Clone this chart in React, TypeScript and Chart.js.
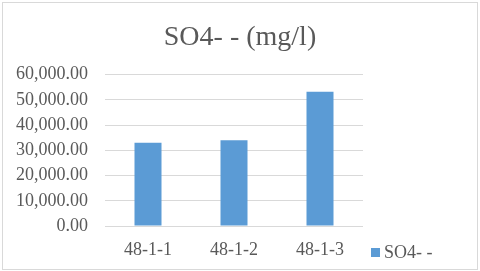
import { useEffect, useRef } from "react";
import { Chart, registerables } from "chart.js";

Chart.register(...registerables);

const chartTitle = "SO4- - (mg/l)";
const categories = ["48-1-1", "48-1-2", "48-1-3"];
const seriesName = "SO4- -";
const seriesValues = [33000, 34000, 53200];
const yMin = 0;
const yMax = 60000;
const yStep = 10000;

const BAR = "#5b9bd5";
const TEXT = "#595959";
const GRID = "#d9d9d9";
const FONT = "'Liberation Serif', 'Times New Roman', serif";

const framePlugin = {
  id: "frame",
  beforeDraw(chart: any) {
    const ctx = chart.ctx;
    ctx.save();
    ctx.fillStyle = "#ffffff";
    ctx.fillRect(0, 0, chart.width, chart.height);
    ctx.strokeStyle = GRID;
    ctx.lineWidth = 1;
    ctx.strokeRect(2.5, 2.5, chart.width - 5, chart.height - 4);
    ctx.restore();
  },
  afterDraw(chart: any) {
    const ctx = chart.ctx;
    const area = chart.chartArea;
    ctx.save();
    ctx.fillStyle = BAR;
    const x = area.right + 8;
    ctx.fillRect(x, 248, 9, 9);
    ctx.fillStyle = TEXT;
    ctx.font = `18px ${FONT}`;
    ctx.textBaseline = "middle";
    ctx.textAlign = "left";
    ctx.fillText(chart.data.datasets[0].label, x + 13, 253);
    ctx.restore();
  },
};

export default function App() {
  const ref = useRef<HTMLCanvasElement | null>(null);
  useEffect(() => {
    document.body.style.margin = "0";
    if (!ref.current) return;
    const chart = new Chart(ref.current, {
      type: "bar",
      data: {
        labels: categories,
        datasets: [
          {
            label: seriesName,
            data: seriesValues,
            backgroundColor: BAR,
            barPercentage: 0.314,
            categoryPercentage: 1,
          },
        ],
      },
      options: {
        responsive: false,
        animation: false,
        devicePixelRatio: 1,
        layout: { padding: 0 },
        plugins: {
          legend: { display: false },
          tooltip: { enabled: false },
          title: {
            display: true,
            text: chartTitle,
            color: TEXT,
            font: { family: FONT, size: 28, weight: "normal" },
            padding: { top: 21, bottom: 20 },
          },
        },
        scales: {
          x: {
            grid: { display: false, drawTicks: false },
            border: { display: false },
            ticks: { color: TEXT, font: { family: FONT, size: 18 }, padding: 13 },
            afterFit: (s: any) => {
              s.height = 45;
            },
          },
          y: {
            min: yMin,
            max: yMax,
            grid: { color: GRID, drawTicks: false },
            border: { display: false },
            ticks: {
              stepSize: yStep,
              color: TEXT,
              font: { family: FONT, size: 18 },
              padding: 17,
              callback: (v: any) =>
                Number(v).toLocaleString("en-US", {
                  minimumFractionDigits: 2,
                  maximumFractionDigits: 2,
                }),
            },
            afterFit: (s: any) => {
              s.width = 105;
            },
          },
          legendSpace: {
            type: "linear",
            position: "right",
            display: true,
            grid: { display: false, drawTicks: false },
            border: { display: false },
            ticks: { display: false },
            afterFit: (s: any) => {
              s.width = 117;
            },
          },
        },
      } as any,
      plugins: [framePlugin],
    });
    return () => chart.destroy();
  }, []);
  return <canvas ref={ref} width={480} height={271} style={{ display: "block" }} />;
}
